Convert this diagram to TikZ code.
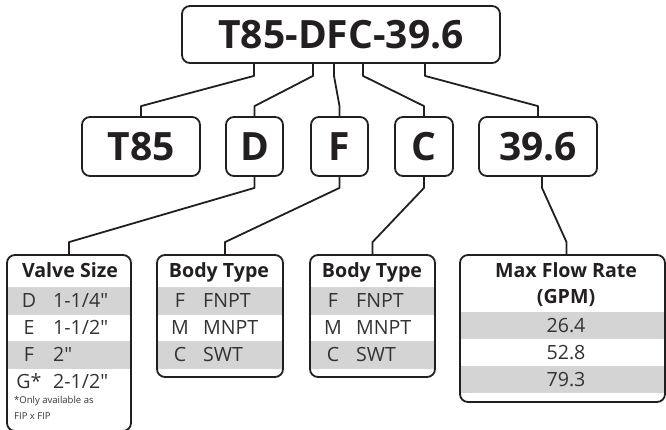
\documentclass[tikz,border=0pt]{standalone}
\usepackage{fontspec}
\setmainfont{Open Sans}[Ligatures=TeXOff]
\definecolor{ink}{HTML}{231F20}
\definecolor{band}{HTML}{D4D4D4}
\tikzset{
  box/.style={draw=ink, line width=1.8pt, rounded corners=8pt, inner sep=0pt},
  big/.style={box, font=\bfseries\fontsize{39}{39}\selectfont, text=ink, text height=28pt, text depth=0pt},
  wire/.style={draw=ink, line width=1.8pt, line join=round},
  head/.style={font=\bfseries\fontsize{19.6}{20}\selectfont, text=ink, inner sep=0pt},
  row/.style={font=\fontsize{19.6}{20}\selectfont, text=black!80, inner sep=0pt},
  note/.style={font=\fontsize{9.5}{10}\selectfont, text=black!80, inner sep=0pt}
}
\begin{document}
\begin{tikzpicture}[x=1pt,y=-1pt]
\useasboundingbox (0,0) rectangle (666,429);

% grey rows
\foreach \y in {287,341} {
  \fill[band] (7,\y) rectangle (131,\y+28);
  \fill[band] (157,\y) rectangle (283,\y+28);
  \fill[band] (310,\y) rectangle (435,\y+28);
}
\foreach \y in {312,366}
  \fill[band] (460,\y) rectangle (665,\y+27);

\node[big, minimum width=318pt, minimum height=57pt] (code) at (341,34.5) {T85-DFC-39.6};

\foreach \n/\x/\w/\t in {seg1/141/118/T85, seg2/254.5/57/D, seg3/339.5/57/F, seg4/424/58/C, seg5/538/118/39.6}
  \node[big, minimum width=\w pt, minimum height=59pt] (\n) at (\x,146.5) {\t};

\node[box, minimum width=124pt, minimum height=176pt] (vs) at (69,343) {};
\node[box, minimum width=126pt, minimum height=122pt] (bt1) at (220,316) {};
\node[box, minimum width=125pt, minimum height=122pt] (bt2) at (372.5,316) {};
\node[box, minimum width=205pt, minimum height=147pt] (mf) at (562.5,328.5) {};

\foreach \dx/\s in {-87/seg1,-28/seg2,-7/seg3,22/seg4,84/seg5}
  \draw[wire] ([xshift=\dx pt]code.south) -- ++(0,12) -- ([yshift=10pt]\s.north) -- (\s.north);

\draw[wire] (seg2.south) -- ++(0,11) -- ([yshift=12pt]vs.north) -- (vs.north);
\draw[wire] (seg3.south) -- ++(0,11) -- ([xshift=5pt,yshift=12pt]bt1.north) -- ([xshift=5pt]bt1.north);
\draw[wire] (seg4.south) -- ++(0,11) -- ([yshift=12pt]bt2.north) -- (bt2.north);
\draw[wire] ([xshift=4pt]seg5.south) -- ++(0,11) -- ([xshift=4pt,yshift=12pt]mf.north) -- ([xshift=4pt]mf.north);

% valve size
\node[head, anchor=base] (vshead) at (70,277) {Valve Size};
\foreach \k/\l/\v in {1/D/{1-1/4"}, 2/E/{1-1/2"}, 3/F/{2"}, 4/G*/{2-1/2"}} {
  \node[row, anchor=base] (vsl\k) at (29,280+27*\k) {\l};
  \node[row, anchor=base west] (vsv\k) at (53,280+27*\k) {\v};
}
\node[note, anchor=base west] (fn1) at (14,403) {*Only available as};
\node[note, anchor=base west] (fn2) at (14,419) {FIP x FIP};

% body type
\foreach \b/\x in {bt1/157,bt2/310} {
  \node[head, anchor=base] (\b head) at (\x+62,277) {Body Type};
  \foreach \k/\l/\v in {1/F/FNPT, 2/M/MNPT, 3/C/SWT} {
    \node[row, anchor=base] (\b l\k) at (\x+23,280+27*\k) {\l};
    \node[row, anchor=base west] (\b v\k) at (\x+46,280+27*\k) {\v};
  }
}

% flow rate
\node[head, anchor=base] (mfhead1) at (566,277) {Max Flow Rate};
\node[head, anchor=base] (mfhead2) at (566,303) {(GPM)};
\foreach \k/\v in {1/26.4, 2/52.8, 3/79.3}
  \node[row, anchor=base] (mfv\k) at (566,305+27*\k) {\v};

\end{tikzpicture}
\end{document}
